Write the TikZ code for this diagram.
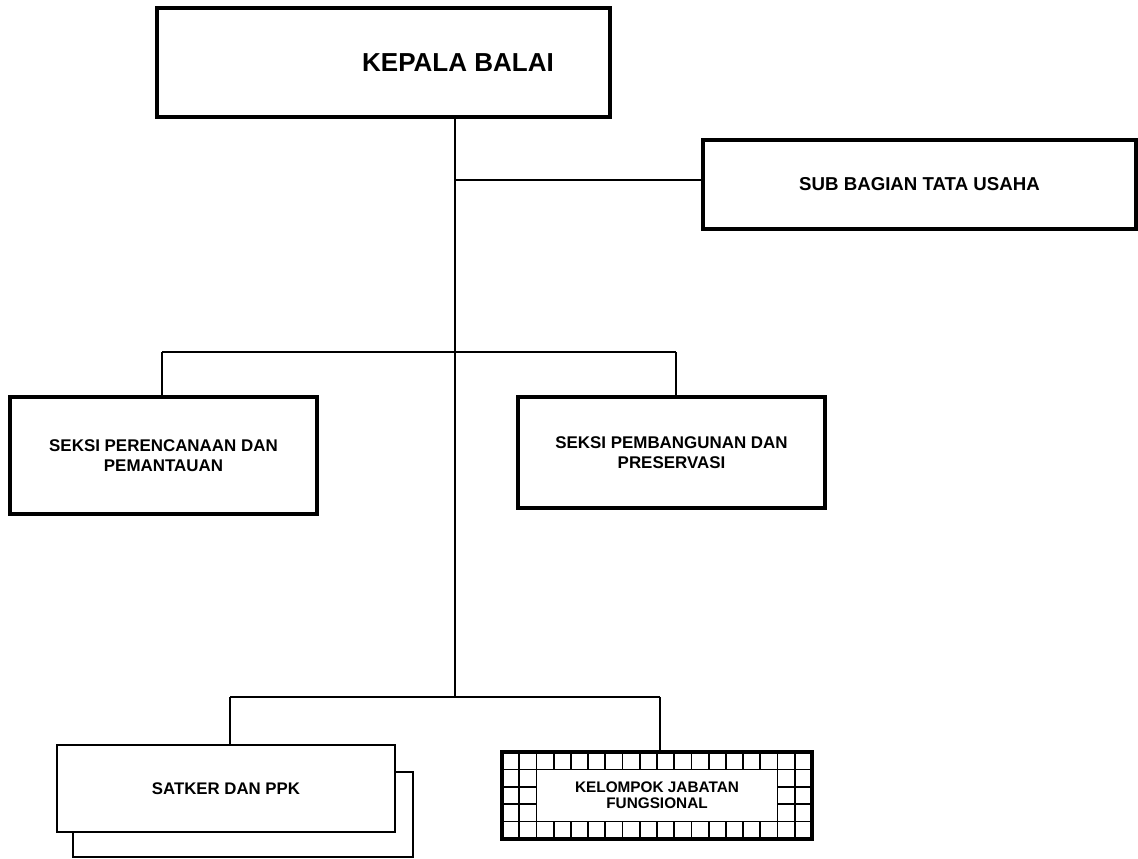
\documentclass[tikz,border=0pt]{standalone}
\usepackage{fontspec}
\setmainfont{Liberation Sans}
\usetikzlibrary{fit}
\begin{document}
\begin{tikzpicture}[x=0.75pt,y=-0.75pt,
  thickbox/.style={draw=black,line width=3.2pt,fill=white,inner sep=0pt},
  thinbox/.style={draw=black,line width=1.5pt,fill=white,inner sep=0pt},
  conn/.style={draw=black,line width=1.1pt},
  gridline/.style={draw=black,line width=1.3pt},
  lbl/.style={font=\bfseries,align=center,inner sep=0pt}]
\useasboundingbox[fill=white] (0,0) rectangle (1138,858);

% connector points
\coordinate (j1) at (455,180);
\coordinate (j2) at (455,352);
\coordinate (j3) at (455,697);
\coordinate (d1) at (162,352);
\coordinate (d2) at (676,352);
\coordinate (d3) at (230,697);
\coordinate (d4) at (660,697);

% boxes
\node[thickbox, fit={(157,8)(610,117)}] (kepala) {};
\node[lbl, font=\fontsize{19.5}{23}\selectfont\bfseries] (kepalatext) at (458,63) {KEPALA BALAI};
\node[thickbox, fit={(703,140)(1136,229)},
  label={[lbl,font=\fontsize{14}{17}\selectfont\bfseries]center:SUB BAGIAN TATA USAHA}] (sub) {};
\node[thickbox, fit={(10,397)(317,514)},
  label={[lbl,font=\fontsize{12.7}{15}\selectfont\bfseries]center:SEKSI PERENCANAAN DAN\\PEMANTAUAN}] (seksia) {};
\node[thickbox, fit={(518,397)(825,508)},
  label={[lbl,font=\fontsize{12.7}{15}\selectfont\bfseries]center:SEKSI PEMBANGUNAN DAN\\PRESERVASI}] (seksib) {};

% satker (double box)
\draw[line width=1.5pt, fill=white] (73,772) rectangle (413,857);
\node[thinbox, fit={(57,745)(395,832)},
  label={[lbl,font=\fontsize{12.6}{15}\selectfont\bfseries]center:SATKER DAN PPK}] (satker) {};

% kelompok jabatan fungsional (grid frame)
\def\gx{502}\def\gy{752}\def\gw{17.222}\def\gh{17.4}
\foreach \i in {1,2,16,17} {
  \draw[gridline] ({\gx+\i*\gw},\gy) -- ({\gx+\i*\gw},{\gy+5*\gh});
}
\foreach \i in {3,...,15} {
  \draw[gridline] ({\gx+\i*\gw},\gy) -- ({\gx+\i*\gw},{\gy+\gh});
  \draw[gridline] ({\gx+\i*\gw},{\gy+4*\gh}) -- ({\gx+\i*\gw},{\gy+5*\gh});
}
\foreach \j in {1,4} {
  \draw[gridline] (\gx,{\gy+\j*\gh}) -- ({\gx+18*\gw},{\gy+\j*\gh});
}
\foreach \j in {2,3} {
  \draw[gridline] (\gx,{\gy+\j*\gh}) -- ({\gx+2*\gw},{\gy+\j*\gh});
  \draw[gridline] ({\gx+16*\gw},{\gy+\j*\gh}) -- ({\gx+18*\gw},{\gy+\j*\gh});
}
\node[draw=black,line width=2.6pt,inner sep=0pt,
      fit={(502,752)(812,839)},
      label={[lbl,font=\fontsize{11.5}{11.7}\selectfont\bfseries]center:KELOMPOK JABATAN\\FUNGSIONAL}] (kjf) {};

% connectors
\draw[conn] (kepala.south -| j3) -- (j3);
\draw[conn] (j1) -- (j1 -| sub.west);
\draw[conn] (d1) -- (d2);
\draw[conn] (d1) -- (d1 |- seksia.north);
\draw[conn] (d2) -- (d2 |- seksib.north);
\draw[conn] (d3) -- (d4);
\draw[conn] (d3) -- (d3 |- satker.north);
\draw[conn] (d4) -- (d4 |- kjf.north);
\end{tikzpicture}
\end{document}
